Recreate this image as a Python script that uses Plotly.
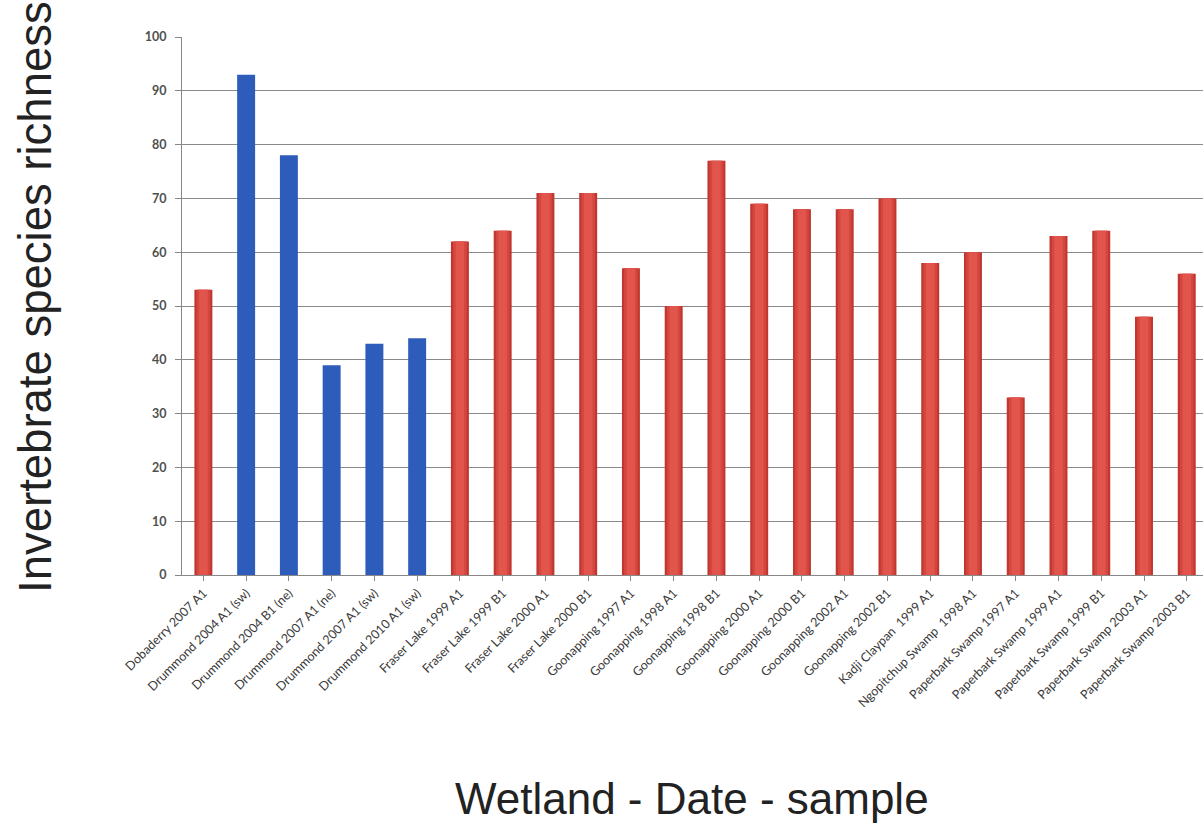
import plotly.graph_objects as go

categories = [
    "Dobaderry 2007 A1", "Drummond 2004 A1 (sw)", "Drummond 2004 B1 (ne)",
    "Drummond 2007 A1 (ne)", "Drummond 2007 A1 (sw)", "Drummond 2010 A1 (sw)",
    "Fraser Lake 1999 A1", "Fraser Lake 1999 B1", "Fraser Lake 2000 A1",
    "Fraser Lake 2000 B1", "Goonapping 1997 A1", "Goonapping 1998 A1",
    "Goonapping 1998 B1", "Goonapping 2000 A1", "Goonapping 2000 B1",
    "Goonapping 2002 A1", "Goonapping 2002 B1", "Kadji Claypan\u00a0\u00a01999 A1",
    "Ngopitchup Swamp\u00a0\u00a01998 A1", "Paperbark Swamp 1997 A1",
    "Paperbark Swamp 1999 A1", "Paperbark Swamp 1999 B1",
    "Paperbark Swamp 2003 A1", "Paperbark Swamp 2003 B1",
]
richness = [53, 93, 78, 39, 43, 44, 62, 64, 71, 71, 57, 50, 77, 69, 68, 68,
            70, 58, 60, 33, 63, 64, 48, 56]
y_ticks = [0, 10, 20, 30, 40, 50, 60, 70, 80, 90, 100]

blue_vals = [v if c.startswith("Drummond") else None for c, v in zip(categories, richness)]
red_vals = [None if c.startswith("Drummond") else v for c, v in zip(categories, richness)]
x_idx = list(range(len(categories)))

fig = go.Figure()
fig.add_trace(go.Bar(x=x_idx, y=blue_vals, width=0.42, marker=dict(color="#2d5cbb", line=dict(width=0))))
# red bars with cylinder-like shading (layered)
fig.add_trace(go.Bar(x=x_idx, y=red_vals, width=0.42, marker=dict(color="#bf3730", line=dict(width=0))))
fig.add_trace(go.Bar(x=x_idx, y=red_vals, width=0.32, marker=dict(color="#d4463e", line=dict(width=0))))
fig.add_trace(go.Bar(x=x_idx, y=red_vals, width=0.2, marker=dict(color="#e2554c", line=dict(width=0))))

fig.update_layout(
    width=1203, height=831,
    barmode="overlay",
    showlegend=False,
    plot_bgcolor="white", paper_bgcolor="white",
    margin=dict(l=182, r=0, t=37, b=256),
    xaxis=dict(
        range=[-0.5, 23.38],
        tickmode="array", tickvals=x_idx, ticktext=categories,
        tickangle=-45,
        tickfont=dict(family="Lato, Open Sans, sans-serif", size=12.5, color="#3a3a3a"),
        showline=True, linecolor="#888", linewidth=1,
        ticks="outside", ticklen=5, tickcolor="#888", tickson="boundaries",
        showgrid=False, zeroline=False,
    ),
    yaxis=dict(
        range=[0, 100], tickvals=y_ticks,
        tickfont=dict(family="Lato, Open Sans, sans-serif", size=12.5, color="#505050", weight="bold"),
        showline=True, linecolor="#888", linewidth=1,
        ticks="outside", ticklen=6, tickcolor="#888", ticklabelstandoff=6,
        showgrid=True, gridcolor="#8a8a8a", gridwidth=1,
        zeroline=False,
    ),
    annotations=[
        dict(text="Invertebrate species richness", textangle=-90,
             xref="paper", yref="paper", x=0, xshift=-147, y=(575 - 297) / 538,
             xanchor="center", yanchor="middle", showarrow=False,
             font=dict(family="Liberation Sans, Arial, sans-serif", size=45.5, color="#222")),
        dict(text="Wetland - Date - sample",
             xref="paper", yref="paper", x=(692 - 182) / 1021, y=0, yshift=-223,
             xanchor="center", yanchor="middle", showarrow=False,
             font=dict(family="Liberation Sans, Arial, sans-serif", size=44, color="#222")),
    ],
)

fig.write_html(
    "out.html",
    config={"displayModeBar": False},
    post_script="document.body.style.margin='0';document.body.style.overflow='hidden';",
)
